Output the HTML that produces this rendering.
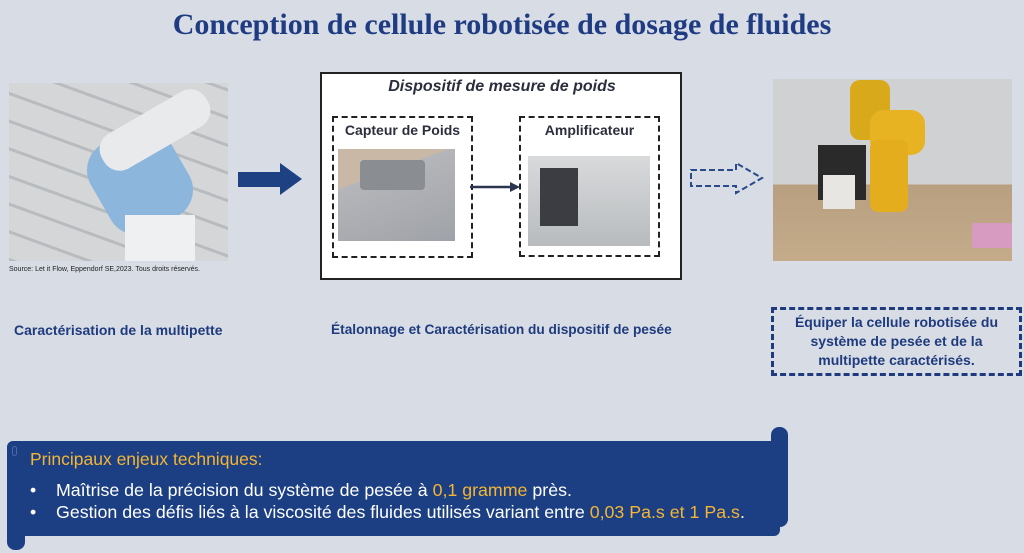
<!DOCTYPE html>
<html><head><meta charset="utf-8"><style>
*{margin:0;padding:0;box-sizing:border-box}
body{width:1024px;height:553px;background:#d7dce5;position:relative;overflow:hidden;font-family:"Liberation Sans",sans-serif}
.a{position:absolute}
.t{color:#1f3b7e;font-weight:bold}
</style></head><body>
<div class="a" style="left:0;top:8px;width:1004px;text-align:center;font-family:'Liberation Serif',serif;font-weight:bold;font-size:30px;color:#1f3c82">Conception de cellule robotisée de dosage de fluides</div>

<!-- left photo -->
<div class="a" style="left:9px;top:83px;width:219px;height:178px;background:repeating-linear-gradient(20deg,#b9bcbf 0 3px,#d4d6d8 3px 26px),linear-gradient(#c8cacc,#a9acaf)"></div>
<div class="a" style="left:95px;top:130px;width:90px;height:100px;background:#8db6dc;border-radius:30px;transform:rotate(-30deg)"></div>
<div class="a" style="left:95px;top:110px;width:120px;height:40px;background:#e8eaec;border-radius:18px;transform:rotate(-30deg)"></div>
<div class="a" style="left:125px;top:215px;width:70px;height:46px;background:#eef0f2"></div>
<div class="a" style="left:9px;top:266px;font-size:7px;color:#222">Source: Let it Flow, Eppendorf SE,2023. Tous droits réservés.</div>

<!-- blue arrow -->
<svg class="a" style="left:236px;top:160px" width="70" height="38"><polygon points="2,12 44,12 44,3 66,19 44,35 44,27 2,27" fill="#1d4183"/></svg>

<!-- center box -->
<div class="a" style="left:320px;top:72px;width:362px;height:208px;background:#fff;border:2px solid #222"></div>
<div class="a" style="left:322px;top:78px;width:360px;text-align:center;font-style:italic;font-weight:bold;font-size:16px;color:#2b2f3d">Dispositif de mesure de poids</div>
<div class="a" style="left:332px;top:116px;width:141px;height:142px;border:2px dashed #222"></div>
<div class="a" style="left:519px;top:116px;width:141px;height:141px;border:2px dashed #222"></div>
<div class="a" style="left:332px;top:122px;width:141px;text-align:center;font-weight:bold;font-size:14px;color:#2b2f3d">Capteur de Poids</div>
<div class="a" style="left:519px;top:122px;width:141px;text-align:center;font-weight:bold;font-size:14px;color:#2b2f3d">Amplificateur</div>
<div class="a" style="left:338px;top:149px;width:117px;height:92px;background:linear-gradient(160deg,#c9b8a6 0 30%,#b5b6ba 30%,#9fa2a8 100%)"></div>
<div class="a" style="left:360px;top:160px;width:65px;height:30px;background:#8a8d92;border-radius:4px"></div>
<div class="a" style="left:528px;top:156px;width:122px;height:90px;background:linear-gradient(#d8dadc,#b8bbbd)"></div>
<div class="a" style="left:540px;top:168px;width:38px;height:58px;background:#3b3d42"></div>
<svg class="a" style="left:468px;top:180px" width="54" height="14"><line x1="2" y1="7" x2="44" y2="7" stroke="#2b3550" stroke-width="2.5"/><polygon points="42,2 52,7 42,12" fill="#2b3550"/></svg>

<!-- dashed arrow -->
<svg class="a" style="left:688px;top:160px" width="80" height="36"><polygon points="3,10 48,10 48,3 74,18 48,33 48,26 3,26" fill="none" stroke="#2b4a8c" stroke-width="2" stroke-dasharray="6,3"/></svg>

<!-- right photo -->
<div class="a" style="left:773px;top:79px;width:239px;height:182px;background:linear-gradient(#cfd1d2 0 58%,#b89f80 58%,#c4ab8a 100%)"></div>
<div class="a" style="left:850px;top:80px;width:40px;height:60px;background:#d9a91c;border-radius:10px"></div>
<div class="a" style="left:870px;top:110px;width:55px;height:45px;background:#e7b322;border-radius:14px"></div>
<div class="a" style="left:870px;top:140px;width:38px;height:72px;background:#e4ad1d;border-radius:8px"></div>
<div class="a" style="left:818px;top:145px;width:48px;height:55px;background:#2a2a2a"></div>
<div class="a" style="left:823px;top:175px;width:32px;height:34px;background:#e8e6e2"></div>
<div class="a" style="left:972px;top:223px;width:40px;height:25px;background:#d79ac0"></div>

<div class="a t" style="left:14px;top:322px;font-size:14px">Caractérisation de la multipette</div>
<div class="a t" style="left:331px;top:322px;font-size:13.7px">Étalonnage et Caractérisation du dispositif de pesée</div>

<div class="a" style="left:771px;top:307px;width:251px;height:69px;border:3px dashed #1f3b7e"></div>
<div class="a t" style="left:771px;top:313px;width:251px;text-align:center;font-size:14px;line-height:19px">Équiper la cellule robotisée du<br>système de pesée et de la<br>multipette caractérisés.</div>

<!-- scroll -->
<div class="a" style="left:771px;top:427px;width:17px;height:100px;background:#1c3f84;border-radius:8px"></div>
<div class="a" style="left:7px;top:441px;width:773px;height:95px;background:#1c3f84;border-radius:6px"></div>
<div class="a" style="left:7px;top:441px;width:18px;height:109px;background:#1c3f84;border-radius:8px"></div>
<div class="a" style="left:12px;top:446px;width:5px;height:10px;border:1px solid #4a6aa8;border-radius:3px"></div>
<div class="a" style="left:30px;top:449px;font-size:17.5px;color:#f3b533">Principaux enjeux techniques:</div>
<div class="a" style="left:30px;top:479px;font-size:17.8px;color:#fff;line-height:22px;white-space:nowrap">•&nbsp;&nbsp;&nbsp;&nbsp;Maîtrise de la précision du système de pesée à <span style="color:#f3b533">0,1 gramme</span> près.<br>•&nbsp;&nbsp;&nbsp;&nbsp;Gestion des défis liés à la viscosité des fluides utilisés variant entre <span style="color:#f3b533">0,03 Pa.s et 1 Pa.s</span>.</div>
</body></html>
